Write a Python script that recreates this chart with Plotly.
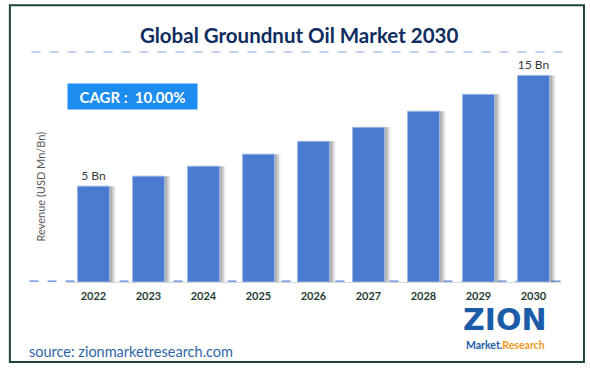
import plotly.graph_objects as go

years = ["2022", "2023", "2024", "2025", "2026", "2027", "2028", "2029", "2030"]
revenue = [5.0, 5.52, 6.04, 6.67, 7.34, 8.07, 8.91, 9.79, 10.78]
bar_labels = ["5 Bn", "", "", "", "", "", "", "", "15 Bn"]

title_text = "Global Groundnut Oil Market 2030"
cagr_text = "CAGR :  10.00%"
y_title = "Revenue (USD Mn/Bn)"
source_text = "source: zionmarketresearch.com"

BAR_COLOR = "#4a7bd1"
BAR_W = 0.58

fig = go.Figure()

# soft shadow to the right of each bar
for dx, alpha in [(0.11, 0.10), (0.08, 0.15), (0.05, 0.20)]:
    fig.add_trace(go.Bar(
        x=years, y=revenue, width=BAR_W, offset=-BAR_W / 2 + dx,
        marker=dict(color=f"rgba(60,60,60,{alpha})", line=dict(width=0)),
        hoverinfo="skip", showlegend=False,
    ))

fig.add_trace(go.Bar(
    x=years, y=revenue, width=BAR_W, offset=-BAR_W / 2,
    marker=dict(color=BAR_COLOR, line=dict(color="#9db7e6", width=1)),
    text=bar_labels, textposition="outside", cliponaxis=False,
    textfont=dict(family="Lato", size=12, color="#3a3a3a"),
    showlegend=False,
))

fig.update_layout(
    width=590, height=369, autosize=False,
    margin=dict(l=66, r=29, t=52, b=87),
    paper_bgcolor="white", plot_bgcolor="white",
    barmode="overlay",
    title=dict(text=f"<b>{title_text}</b>", x=0.507, xanchor="center",
               y=0.902, yanchor="middle",
               font=dict(family="Lato", size=20.5, color="#0f2c5e")),
    xaxis=dict(showgrid=False, showline=True, linecolor="#d6d6d6", linewidth=1,
               ticks="", range=[-0.5, 8.5], ticklabelstandoff=4,
               tickfont=dict(family="Lato", size=11, color="#1f3d33"),
               tickprefix="<b>", ticksuffix="</b>"),
    yaxis=dict(range=[0, 12], showgrid=False, showticklabels=False,
               zeroline=False, showline=False, ticks=""),
)

# frame
fig.add_shape(type="rect", xref="paper", yref="paper",
              x0=-0.1134, x1=1.0464, y0=-0.3478, y1=1.203,
              line=dict(color="#1d4636", width=2), fillcolor="rgba(0,0,0,0)")
# dashed lines top & bottom
fig.add_shape(type="line", xref="paper", yref="paper", x0=-0.0696, x1=1.002,
              y0=1.0, y1=1.0, line=dict(color="#7f9fd8", width=1.2, dash="dash"),
              layer="below")
fig.add_shape(type="line", xref="paper", yref="paper", x0=-0.0737, x1=1.002,
              y0=0.004, y1=0.004, line=dict(color="#5b84d6", width=1.2, dash="dash"),
              layer="below")

# CAGR box
fig.add_annotation(xref="paper", yref="paper", x=0.1352, y=0.8065,
                   text=f"<b>{cagr_text}</b>", showarrow=False,
                   bgcolor="#1d8cf0", width=127, height=23,
                   font=dict(family="Lato", size=15, color="white"),
                   xanchor="center", yanchor="middle")
# y-axis title
fig.add_annotation(xref="paper", yref="paper", x=-0.0515, y=0.413,
                   text=y_title, textangle=-90, showarrow=False,
                   font=dict(family="Lato", size=11, color="#595959"),
                   xanchor="center", yanchor="middle")
# source
fig.add_annotation(xref="paper", yref="paper", x=-0.0797, y=-0.30,
                   text=source_text, showarrow=False, xanchor="left", yanchor="middle",
                   font=dict(family="Lato", size=14.5, color="#2f65a7"))
# logo
fig.add_annotation(xref="paper", yref="paper", x=0.887, y=-0.165,
                   text="<b>ZION</b>", showarrow=False, xanchor="center", yanchor="middle",
                   borderpad=0,
                   font=dict(family="DejaVu Sans", size=30, color="#1b5ba8"))
fig.add_annotation(xref="paper", yref="paper", x=0.887, y=-0.274,
                   text="<b><span style='color:#1b5ba8'>Market.</span><span style='color:#f0961e'>Research</span></b>",
                   showarrow=False, xanchor="center", yanchor="middle",
                   borderpad=0,
                   font=dict(family="Lato", size=10.5))

fig.write_html("out.html", config={"displayModeBar": False},
               post_script="document.body.style.margin='0';document.body.style.overflow='hidden';")
